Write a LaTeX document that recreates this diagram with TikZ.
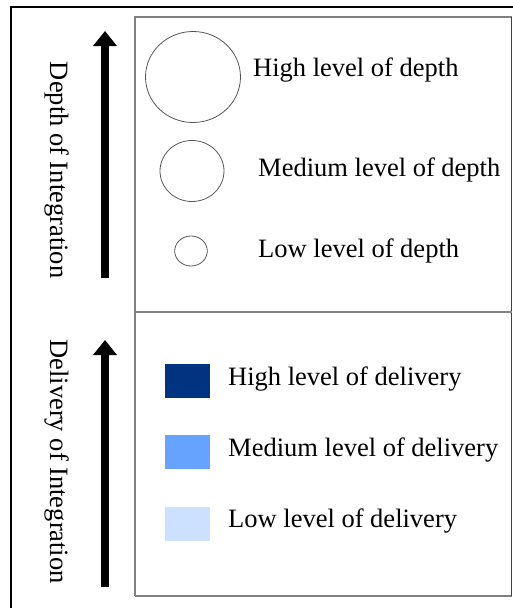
\documentclass[tikz,border=0pt]{standalone}
\usepackage{fontspec}
\setmainfont{Liberation Serif}
\usetikzlibrary{arrows.meta,shapes.geometric}
\definecolor{boxgray}{HTML}{808080}
\definecolor{edgedark}{HTML}{404040}
\definecolor{circgray}{HTML}{555555}
\definecolor{delhigh}{HTML}{003380}
\definecolor{delmed}{HTML}{66A3FF}
\definecolor{dellow}{HTML}{CCE0FF}
\tikzset{
  lbl/.style={anchor=base west, inner sep=0pt, font=\fontsize{26.5}{30}\selectfont},
  sidelbl/.style={lbl, rotate=-90},
  bigarrow/.style={line width=8pt, -{Triangle[width=23pt,length=15pt]}},
  lvlcirc/.style={ellipse, draw=circgray, line width=0.8pt, inner sep=0pt},
  lvlsq/.style={rectangle, inner sep=0pt, minimum width=45pt, minimum height=34pt}
}
\begin{document}
\begin{tikzpicture}[x=1pt,y=-1pt]
\useasboundingbox (0,0) rectangle (513,608);
% outer frame
\draw[black, line width=1.2pt] (11,608) -- (11,7) -- (513,7);
% inner box
\draw[boxgray, line width=1.2pt] (135,596) -- (135,17) -- (511.5,17);
\draw[boxgray, line width=1.2pt] (135,596) -- (511.5,596);
\draw[edgedark, line width=1.4pt] (511.5,17) -- (511.5,596);
\draw[boxgray, line width=1.2pt] (135,312) -- (511.5,312);
% arrows
\coordinate (a1s) at (105,278);
\coordinate (a1e) at (105,31);
\coordinate (a2s) at (105,587);
\coordinate (a2e) at (105,340);
\draw[bigarrow] (a1s) -- (a1e);
\draw[bigarrow] (a2s) -- (a2e);
% side labels
\node[sidelbl] (depthlbl) at (50,61.7) {Depth of Integration};
\node[sidelbl] (delivlbl) at (50,339.3) {Delivery of Integration};
% circles
\node[lvlcirc, minimum width=95pt, minimum height=91pt] (c1) at (193,77) {};
\node[lvlcirc, minimum width=64pt, minimum height=61pt] (c2) at (192,171) {};
\node[lvlcirc, minimum width=32.6pt, minimum height=30pt] (c3) at (191,251) {};
\node[lbl] (t1) at (253,76) {High level of depth};
\node[lbl] (t2) at (258,176) {Medium level of depth};
\node[lbl] (t3) at (258,257) {Low level of depth};
% squares
\node[lvlsq, fill=delhigh] (s1) at (187.5,381) {};
\node[lvlsq, fill=delmed] (s2) at (187.5,452) {};
\node[lvlsq, fill=dellow] (s3) at (187.5,523.5) {};
\node[lbl] (d1) at (228,385) {High level of delivery};
\node[lbl] (d2) at (228,456) {Medium level of delivery};
\node[lbl] (d3) at (228,527.7) {Low level of delivery};
\end{tikzpicture}
\end{document}
